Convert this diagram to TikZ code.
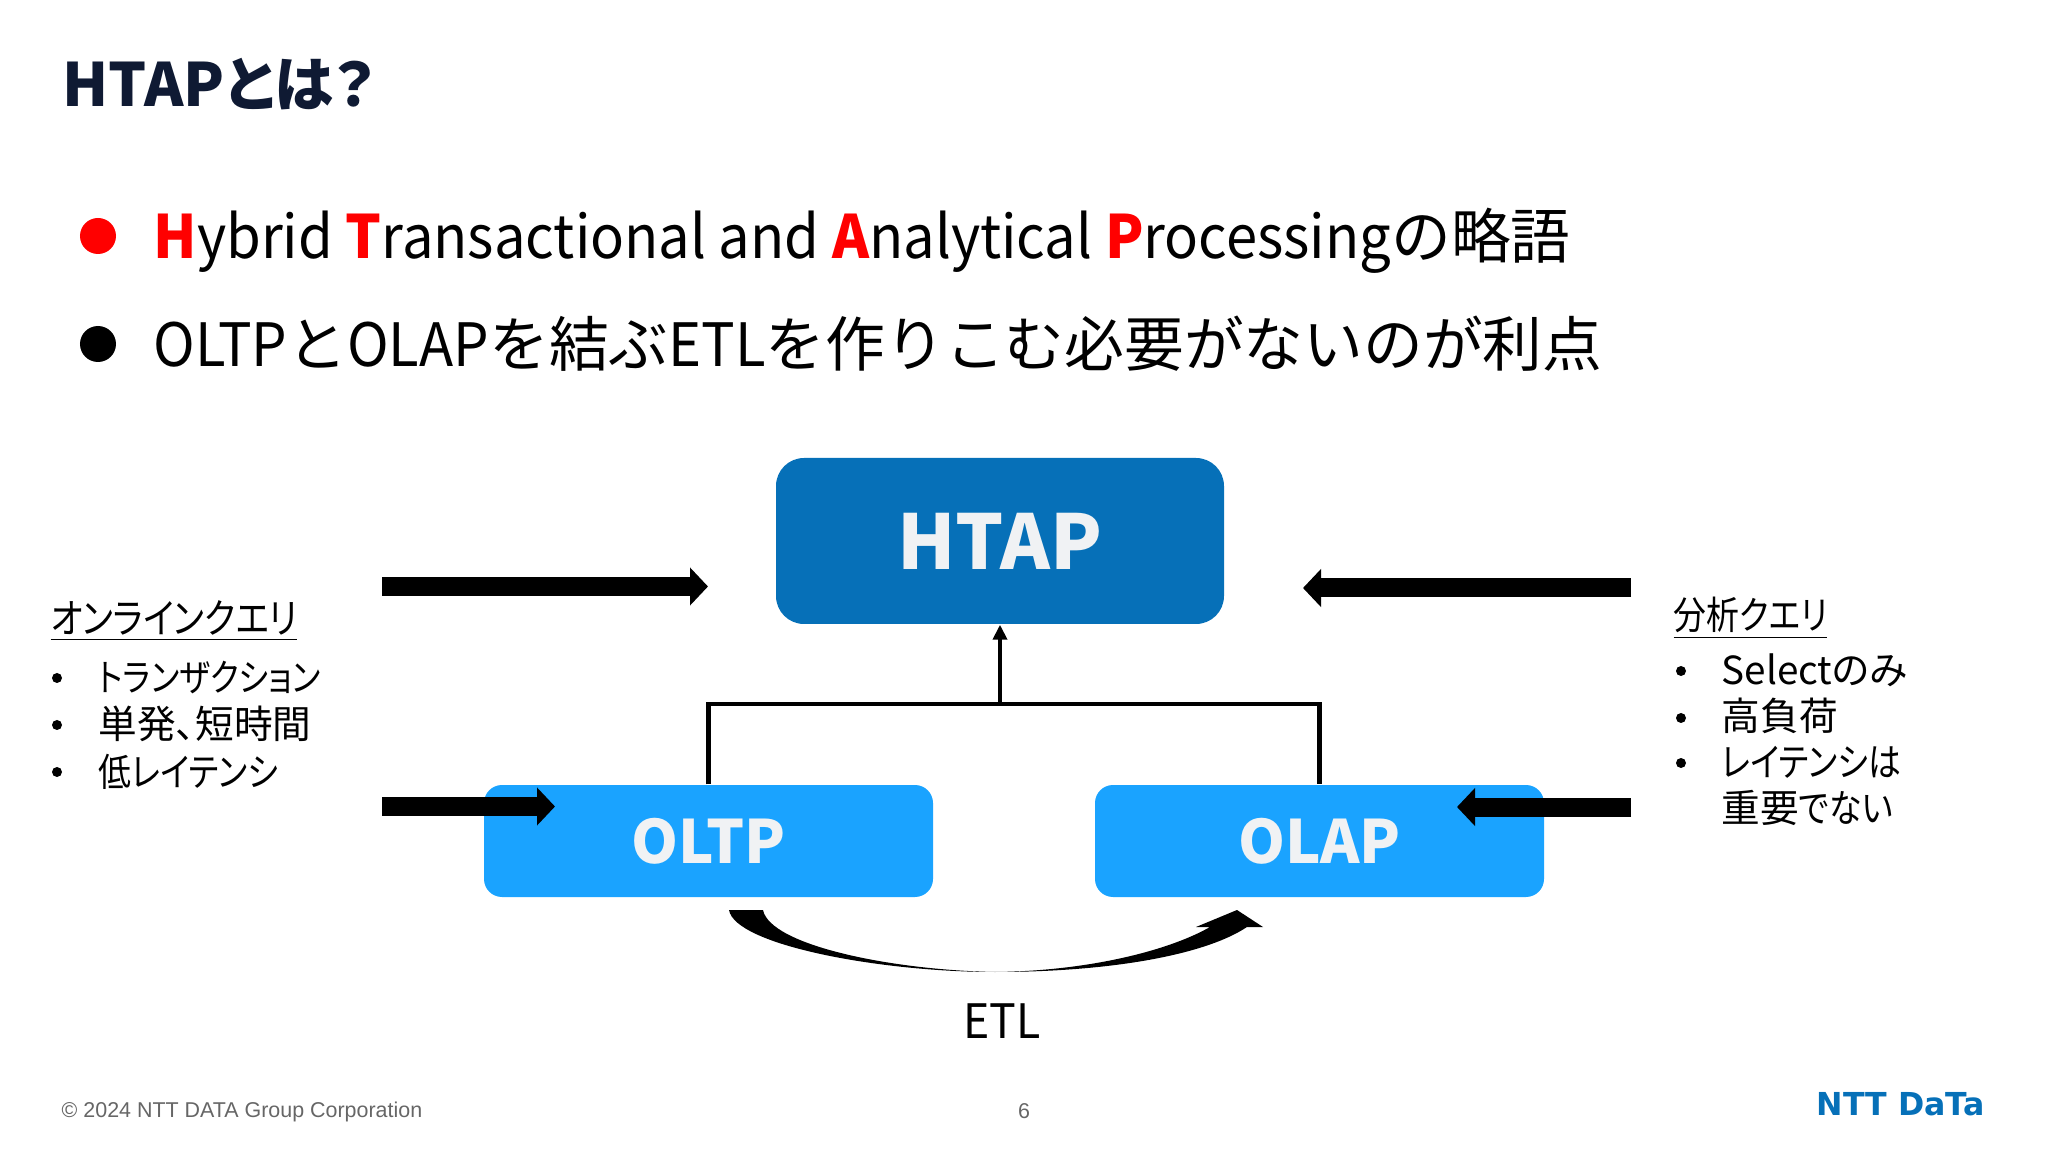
\documentclass[tikz,border=0pt]{standalone}
\usepackage{fontspec}
\usepackage{xcolor}
\setmainfont{Noto Sans CJK JP}
\newfontfamily\latfont[FakeStretch=0.94]{Noto Sans CJK JP}
\newfontfamily\kanafont[FakeStretch=0.85,RawFeature=+palt]{Noto Sans CJK JP}
\newfontfamily\palfont[RawFeature=+palt]{Noto Sans CJK JP}
\newfontfamily\footfont{Liberation Sans}
\newfontfamily\logofont{DejaVu Sans}
\newcommand{\lat}[1]{{\latfont #1}}
\definecolor{titlenavy}{HTML}{0F1A33}
\definecolor{htapblue}{HTML}{0670B8}
\definecolor{dbblue}{HTML}{1AA3FF}
\definecolor{boxtext}{HTML}{F0F2F4}
\definecolor{footgray}{HTML}{666666}
\usetikzlibrary{arrows.meta,positioning}
\tikzset{
  dbbox/.style={rectangle,rounded corners=0.18cm,fill=dbblue,text=boxtext,minimum width=4.49cm,minimum height=1.12cm,inner sep=0pt,font=\palfont\fontsize{17}{17}\selectfont\bfseries},
  leadline/.style={anchor=base west,inner sep=0pt,font=\fontsize{17}{17}\selectfont},
  listlabel/.style={anchor=west,inner sep=0pt,font=\kanafont\fontsize{11}{11}\selectfont},
  kanjilabel/.style={anchor=west,inner sep=0pt,font=\palfont\fontsize{11}{11}\selectfont},
  listdot/.style={circle,fill=black,inner sep=0pt,minimum size=0.1cm},
  queryarrow/.style={line width=0.19cm,-{Triangle[length=0.18cm,width=0.37cm]}},
  treeline/.style={line width=0.045cm},
  footlabel/.style={inner sep=0pt,text=footgray,font=\footfont\fontsize{6.1}{6.1}\selectfont}
}

\begin{document}
\begin{tikzpicture}
      \useasboundingbox (0,0) rectangle (20.48,-11.52);
      \node[anchor=west,inner sep=0pt,text=titlenavy,font=\palfont\fontsize{17}{17}\selectfont\bfseries] (title) at (0.62,-0.84) {HTAPとは？};
      \node[circle,fill=red,minimum size=0.36cm,inner sep=0pt] (reddot) at (0.98,-2.36) {};
      \node[leadline] (line1) at (1.53,-2.59) {\lat{\textcolor{red}{\bfseries H}ybrid \textcolor{red}{\bfseries T}ransactional and \textcolor{red}{\bfseries A}nalytical \textcolor{red}{\bfseries P}rocessing}の略語};
      \node[circle,fill=black,minimum size=0.36cm,inner sep=0pt] (blackdot) at (0.98,-3.44) {};
      \node[leadline] (line2) at (1.53,-3.67) {\lat{OLTP}と\lat{OLAP}を結ぶ\lat{ETL}を作りこむ必要がないのが利点};
      \node[rectangle,rounded corners=0.28cm,fill=htapblue,text=boxtext,minimum width=4.48cm,minimum height=1.66cm,inner sep=0pt,font=\palfont\fontsize{21.5}{21.5}\selectfont\bfseries] (htap) at (10,-5.41) {HTAP};
      \node[dbbox] (oltp) at (7.085,-8.41) {OLTP};
      \node[dbbox] (olap) at (13.195,-8.41) {OLAP};
      \coordinate (join) at (10,-7.04);
      \draw[treeline] (oltp.north) |- (join) -| (olap.north);
      \draw[treeline,-{Triangle[length=0.15cm,width=0.14cm]}] (join) -- (htap.south);
      \coordinate (online1) at (3.82,-5.865);
      \coordinate (online2) at (7.08,-5.865);
      \coordinate (online3) at (3.82,-8.065);
      \coordinate (online4) at (5.55,-8.065);
      \coordinate (bunseki1) at (16.31,-5.88);
      \coordinate (bunseki2) at (13.03,-5.88);
      \coordinate (bunseki3) at (16.31,-8.07);
      \coordinate (bunseki4) at (14.57,-8.07);
      \draw[queryarrow] (online1) -- (online2);
      \draw[queryarrow] (online3) -- (online4);
      \draw[queryarrow] (bunseki1) -- (bunseki2);
      \draw[queryarrow] (bunseki3) -- (bunseki4);
      \coordinate (etlstart) at (7.29,-9.10);
      \coordinate (etlinner) at (7.63,-9.10);
      \coordinate (etlmid) at (9.95,-9.72);
      \coordinate (etltip) at (12.37,-9.10);
      \fill[black] (etlstart) .. controls (7.35,-9.45) and (8.8,-9.72) .. (etlmid)
        .. controls (11.1,-9.72) and (12.05,-9.55) .. (12.47,-9.27)
        -- (12.63,-9.27) -- (etltip) -- (11.96,-9.27) -- (12.10,-9.27)
        .. controls (11.7,-9.50) and (10.9,-9.71) .. (etlmid)
        .. controls (8.9,-9.70) and (7.70,-9.45) .. (etlinner) -- cycle;
      \node[inner sep=0pt,font=\latfont\fontsize{13.5}{13.5}\selectfont] (etl) at (10.02,-10.21) {ETL};
      \node[listlabel,font=\kanafont\fontsize{11.6}{11.6}\selectfont] (onlinelabel) at (0.50,-6.21) {\underline{オンラインクエリ}};
      \node[listdot] (d1) at (0.57,-6.78) {};
      \node[listlabel,font=\kanafont\fontsize{10.7}{10.7}\selectfont] (t1) at (0.98,-6.78) {トランザクション};
      \node[listdot] (d2) at (0.57,-7.25) {};
      \node[kanjilabel] (t2) at (0.98,-7.24) {単発、短時間};
      \node[listdot] (d3) at (0.57,-7.72) {};
      \node[listlabel] (t3) at (0.98,-7.72) {低レイテンシ};
      \node[listlabel] (bunsekilabel) at (16.73,-6.18) {\underline{分析クエリ}};
      \node[listdot] (d4) at (16.81,-6.71) {};
      \node[kanjilabel] (t4) at (17.21,-6.70) {Selectのみ};
      \node[listdot] (d5) at (16.81,-7.18) {};
      \node[kanjilabel] (t5) at (17.21,-7.16) {高負荷};
      \node[listdot] (d6) at (16.81,-7.63) {};
      \node[listlabel] (t6) at (17.21,-7.62) {レイテンシは};
      \node[kanjilabel] (t7) at (17.21,-8.08) {重要{\kanafont でない}};
      \node[footlabel,anchor=west] (copy) at (0.61,-11.12) {© 2024 NTT DATA Group Corporation};
      \node[footlabel] (page) at (10.24,-11.11) {6};
      \node[anchor=west,inner sep=0pt,text=htapblue,font=\logofont\fontsize{9}{9}\selectfont\bfseries] (logo) at (18.16,-11.04) {NTT DaTa};
    \end{tikzpicture}
\end{document}
